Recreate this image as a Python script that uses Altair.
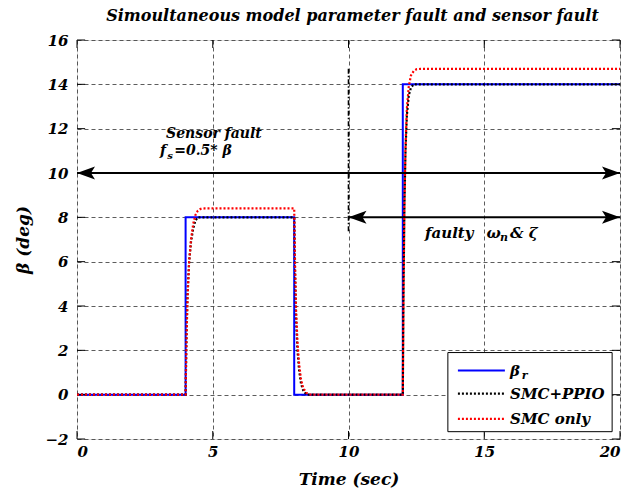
import altair as alt
import pandas as pd

FONT = "DejaVu Serif"

# ---------------- data ----------------
t_ref = [0, 4, 4, 8, 8, 12, 12, 20]
v_ref = [0, 0, 8, 8, 0, 0, 14, 14]

t_ppio = [0, 4.0, 4.03, 4.07, 4.13, 4.2, 4.28, 4.36, 4.45,
          8.0, 8.03, 8.07, 8.12, 8.18, 8.25, 8.33, 8.45,
          12.0, 12.03, 12.06, 12.1, 12.15, 12.22, 12.3, 12.4, 20]
v_ppio = [0, 0, 2.5, 4.5, 6.0, 6.9, 7.5, 7.85, 8.0,
          8.0, 5.5, 3.4, 2.0, 1.1, 0.5, 0.2, 0,
          0, 5, 8.5, 11, 12.6, 13.5, 13.85, 14, 14]

t_smc = [0, 4.0, 4.03, 4.07, 4.13, 4.2, 4.28, 4.36, 4.45, 4.55, 4.7,
         8.0, 8.03, 8.07, 8.12, 8.18, 8.25, 8.33, 8.45, 8.6,
         12.0, 12.03, 12.06, 12.1, 12.15, 12.22, 12.3, 12.4, 12.5, 12.65, 20]
v_smc = [0, 0, 2.3, 4.3, 6.0, 7.0, 7.7, 8.1, 8.3, 8.38, 8.4,
         8.4, 6.0, 3.8, 2.4, 1.4, 0.7, 0.3, 0.08, 0,
         0, 5, 8.5, 11.2, 12.9, 13.9, 14.4, 14.6, 14.68, 14.7, 14.7]

x_ticks = [0, 5, 10, 15, 20]
y_ticks = [-2, 0, 2, 4, 6, 8, 10, 12, 14, 16]

legend_names = ["SMC+PPIO", "SMC only"]
title_text = "Simoultaneous model parameter fault and sensor fault"

# ---------------- helpers ----------------
def sdf(t, v):
    return pd.DataFrame({"t": t, "v": v, "i": list(range(len(t)))})

XS = alt.Scale(domain=[0, 20], nice=False, zero=False)
YS = alt.Scale(domain=[-2, 16], nice=False, zero=False)

axis_common = dict(
    labelFont=FONT, labelFontStyle="italic", labelFontWeight="bold",
    labelFontSize=15, labelColor="black",
    titleFont=FONT, titleFontStyle="italic", titleFontWeight="bold",
    titleFontSize=17, titleColor="black",
    grid=True, gridColor="#333333", gridDash=[4, 3], gridWidth=0.8,
    domain=False, ticks=False,
)
AX = alt.Axis(values=x_ticks, title="Time (sec)", labelPadding=5, titlePadding=12, **axis_common)
AY = alt.Axis(values=y_ticks, title="β (deg)", labelPadding=9, titlePadding=12, **axis_common)


def X(field="t"):
    return alt.X(f"{field}:Q", scale=XS, axis=AX)


def Y(field="v"):
    return alt.Y(f"{field}:Q", scale=YS, axis=AY)


txt = dict(font=FONT, fontStyle="italic", fontWeight="bold", color="black")

base = alt.Chart(sdf(t_ref, v_ref)).mark_line(strokeWidth=2, color="#0000ff").encode(
    x=X(), y=Y(), order="i:Q")
ppio = alt.Chart(sdf(t_ppio, v_ppio)).mark_line(
    strokeWidth=2.2, color="black", strokeDash=[2, 2]).encode(x=X(), y=Y(), order="i:Q")
smc = alt.Chart(sdf(t_smc, v_smc)).mark_line(
    strokeWidth=2.2, color="#ff0000", strokeDash=[2, 2]).encode(x=X(), y=Y(), order="i:Q")

# inside ticks
tick_x = pd.DataFrame({"t": x_ticks * 2,
                       "v": [-2] * 5 + [16] * 5,
                       "v2": [-1.64] * 5 + [15.64] * 5})
tick_y = pd.DataFrame({"v": y_ticks * 2,
                       "t": [0] * 10 + [20] * 10,
                       "t2": [0.3] * 10 + [19.7] * 10})
ticks_x = alt.Chart(tick_x).mark_rule(color="black", strokeWidth=1).encode(
    x=X(), y=Y(), y2="v2:Q")
ticks_y = alt.Chart(tick_y).mark_rule(color="black", strokeWidth=1).encode(
    x=X(), x2="t2:Q", y=Y())

# arrows
arrows = pd.DataFrame({"t": [0, 10], "t2": [20, 20], "v": [10, 8]})
arrow_lines = alt.Chart(arrows).mark_rule(color="black", strokeWidth=2).encode(
    x=X(), x2="t2:Q", y=Y())
right_path = "M 1 0 L -1 -0.72 L -0.55 0 L -1 0.72 Z"
left_path = "M -1 0 L 1 -0.72 L 0.55 0 L 1 0.72 Z"
heads_r = alt.Chart(pd.DataFrame({"t": [20, 20], "v": [10, 8]})).mark_point(
    shape=right_path, filled=True, color="black", size=324, opacity=1, xOffset=-9).encode(
    x=X(), y=Y())
heads_l = alt.Chart(pd.DataFrame({"t": [0, 10], "v": [10, 8]})).mark_point(
    shape=left_path, filled=True, color="black", size=324, opacity=1, xOffset=9).encode(
    x=X(), y=Y())

# vertical dash-dot marker at t=10
vline = alt.Chart(pd.DataFrame({"t": [10], "v": [14.7], "v2": [7.3]})).mark_rule(
    color="black", strokeWidth=1.6, strokeDash=[5, 2, 1.5, 2]).encode(x=X(), y=Y(), y2="v2:Q")


def label(t, v, text, size=15, dy=0, align="left"):
    return alt.Chart(pd.DataFrame({"t": [t], "v": [v], "txt": [text]})).mark_text(
        align=align, baseline="middle", fontSize=size, dy=dy, **txt).encode(
        x=X(), y=Y(), text="txt:N")


ann = [
    label(3.28, 11.75, "Sensor fault", size=14),
    label(3.06, 10.98, "f", size=14),
    label(3.32, 10.98, "s", size=10, dy=5),
    label(3.58, 10.98, "=0.5* β", size=14),
    label(12.82, 7.28, "faulty"),
    label(15.08, 7.28, "ω"),
    label(15.58, 7.28, "n", size=11, dy=5),
    label(15.95, 7.28, "& ζ"),
]

# legend (manual)
legend_box = alt.Chart(pd.DataFrame({"t": [13.66], "t2": [19.71], "v": [1.9], "v2": [-1.67]})).mark_rect(
    fill="white", stroke="black", strokeWidth=1).encode(x=X(), x2="t2:Q", y=Y(), y2="v2:Q")
leg_rows = pd.DataFrame({"t": [14.03] * 3, "t2": [15.76] * 3, "v": [1.09, 0.05, -1.09]})
leg_blue = alt.Chart(leg_rows.iloc[[0]]).mark_rule(color="#0000ff", strokeWidth=2.2).encode(
    x=X(), x2="t2:Q", y=Y())
leg_black = alt.Chart(leg_rows.iloc[[1]]).mark_rule(color="black", strokeWidth=2.2, strokeDash=[2, 2]).encode(
    x=X(), x2="t2:Q", y=Y())
leg_red = alt.Chart(leg_rows.iloc[[2]]).mark_rule(color="#ff0000", strokeWidth=2.2, strokeDash=[2, 2]).encode(
    x=X(), x2="t2:Q", y=Y())
leg_txt = [
    label(15.95, 1.09, "β"),
    label(16.38, 1.09, "r", size=11, dy=5),
    label(15.95, 0.05, legend_names[0]),
    label(15.95, -1.09, legend_names[1]),
]

chart = alt.layer(
    base, ticks_x, ticks_y, vline, arrow_lines, heads_r, heads_l, *ann,
    ppio, smc,
    legend_box, leg_blue, leg_black, leg_red, *leg_txt,
).properties(
    width=543, height=399,
    autosize=alt.AutoSizeParams(type="none"),
    padding={"left": 77, "top": 40, "right": 19, "bottom": 52},
    title=alt.TitleParams(title_text, font=FONT, fontSize=16, fontStyle="italic",
                          fontWeight="bold", color="black", anchor="middle",
                          offset=9, dx=4),
).configure_view(stroke="black", strokeWidth=1.2).configure(background="white")

chart.save("out.html", embed_options={"renderer": "svg", "actions": False})
